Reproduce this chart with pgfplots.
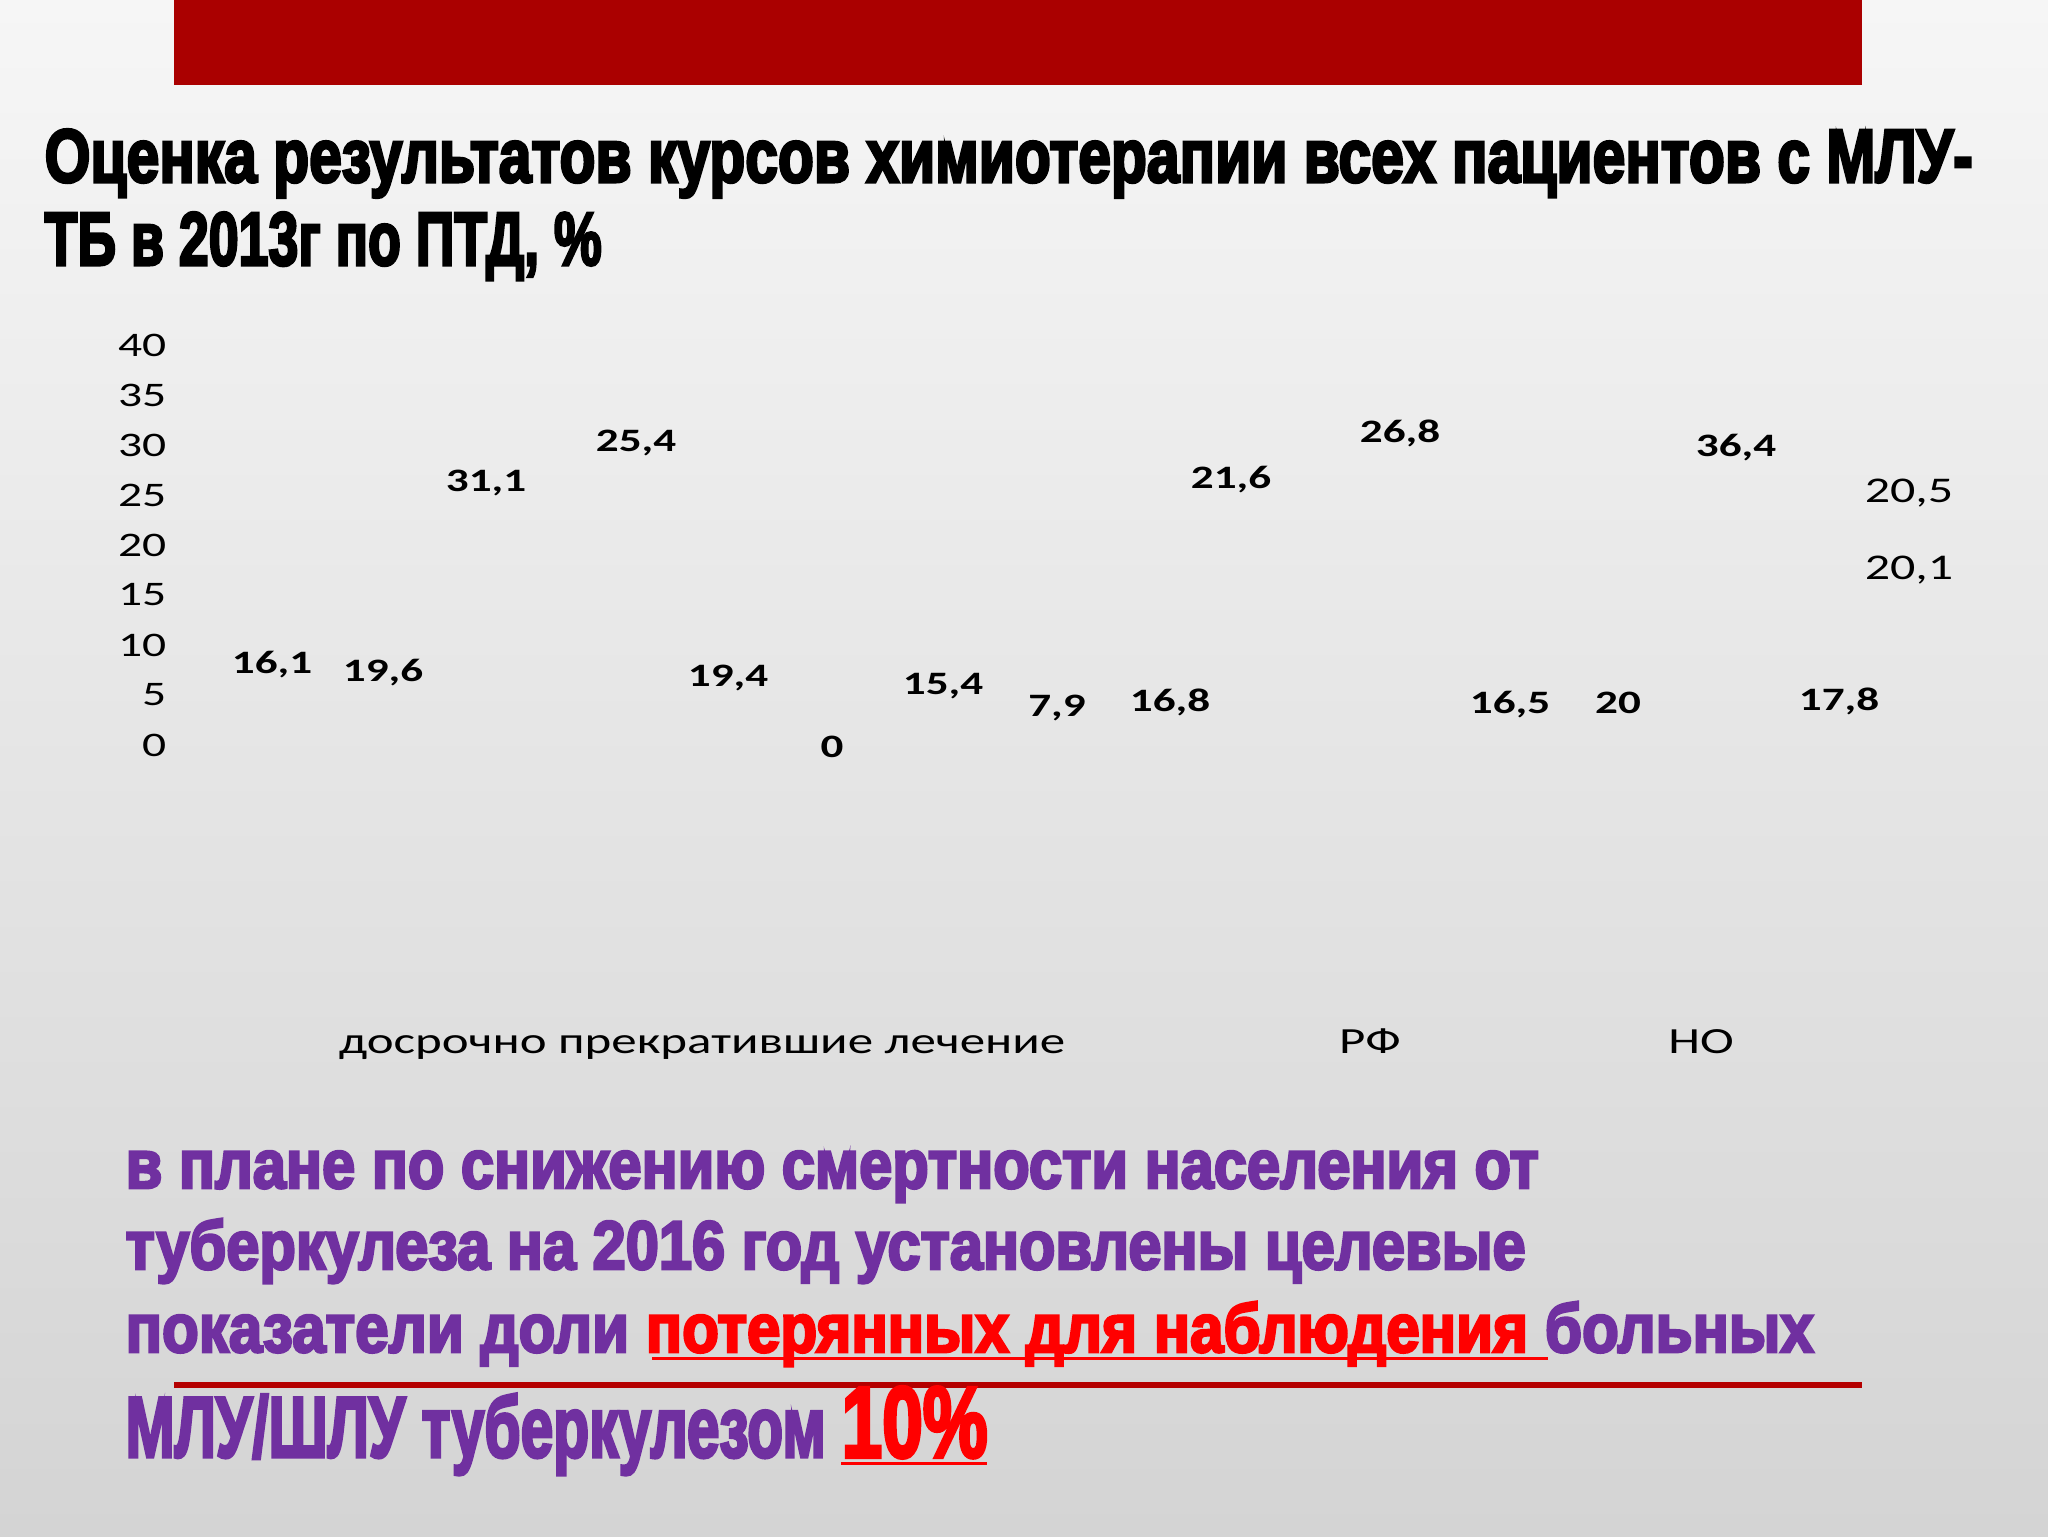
\documentclass[border=0pt]{standalone}
\usepackage{fontspec}
\usepackage{pgfplots}
\pgfplotsset{compat=1.18}
\usepackage{graphicx}
\newfontfamily\carlito[FakeStretch=1.38]{Carlito}
\newfontfamily\impact[UprightFont={* Bold},FakeBold=4]{Liberation Sans}
\definecolor{bgtop}{RGB}{246,246,246}
\definecolor{bgbot}{RGB}{212,212,212}
\definecolor{barred}{RGB}{170,0,0}
\definecolor{linered}{RGB}{180,0,0}
\definecolor{ppl}{RGB}{112,48,160}
\definecolor{txtred}{RGB}{255,0,0}

\pgfplotstableread{
x y lab
272 8.0 16,1
383 7.2 19,6
486 26.2 31,1
636 30.2 25,4
728 6.7 19,4
832 -0.2 0
943 5.9 15,4
1057 3.7 7,9
1170 4.3 16,8
1231 26.5 21,6
1400 31.2 26,8
1510 4.0 16,5
1618 4.2 20
1736 29.7 36,4
1839 4.4 17,8
}\boldlabels
\pgfplotstableread{
x y lab
1909 25.2 20,5
1909 17.5 20,1
}\reglabels

\begin{document}
\begin{tikzpicture}[x=0.1mm,y=0.1mm]
\shade[top color=bgtop,bottom color=bgbot] (0,0) rectangle (2048,1536);
\fill[barred] (174,1451) rectangle (1862,1536);
% title
\node[anchor=base west,inner sep=0pt] at (44,1354) {\resizebox{192.8mm}{1.1\height}{\fontsize{19.5pt}{20pt}\impact Оценка результатов курсов химиотерапии всех пациентов с МЛУ-}};
\node[anchor=base west,inner sep=0pt] at (44,1271) {\resizebox{55.7mm}{1.1\height}{\fontsize{19.5pt}{20pt}\impact ТБ в 2013г по ПТД, \%}};

\begin{axis}[
  at={(16.7mm,48.3mm)}, anchor=south west,
  scale only axis, width=188.1mm, height=70.8mm,
  xmin=167, xmax=2048, ymin=-30.8, ymax=40,
  clip=false,
  axis line style={draw=none}, tick style={draw=none},
  major tick length=0pt,
  ytick={0,5,...,40},
  /pgf/number format/assume math mode=true,
  yticklabel style={anchor=east, inner sep=0pt, font=\fontsize{9.8pt}{10pt}\carlito},
  xtick={702,1370,1701},
  xticklabels={досрочно прекратившие лечение, РФ, НО},
  xticklabel style={anchor=base, inner sep=0pt, font=\fontsize{10.5pt}{11pt}\carlito},
]
\addplot[draw=none, mark=none, nodes near coords, point meta=explicit symbolic,
  every node near coord/.append style={anchor=center, inner sep=0pt, font=\fontsize{9.3pt}{10pt}\carlito\bfseries}]
  table[x=x, y=y, meta=lab] {\boldlabels};
\addplot[draw=none, mark=none, nodes near coords, point meta=explicit symbolic,
  every node near coord/.append style={anchor=center, inner sep=0pt, font=\fontsize{10.3pt}{11pt}\carlito}]
  table[x=x, y=y, meta=lab] {\reglabels};
\end{axis}

% bottom text
\node[anchor=base west,inner sep=0pt] at (125,348) {\resizebox{141.3mm}{\height}{\fontsize{19.5pt}{20pt}\impact\color{ppl}в плане по снижению смертности населения от}};
\node[anchor=base west,inner sep=0pt] at (125,267) {\resizebox{140.0mm}{\height}{\fontsize{19.5pt}{20pt}\impact\color{ppl}туберкулеза на 2016 год установлены целевые}};
\node[anchor=base west,inner sep=0pt] at (125,184) {\resizebox{168.8mm}{\height}{\fontsize{19.5pt}{20pt}\impact\color{ppl}показатели доли \textcolor{txtred}{потерянных для наблюдения} больных}};
\fill[txtred] (652,176.5) rectangle (1548,179.5);
\fill[linered] (174,148) rectangle (1862,154);
\node[anchor=base west,inner sep=0pt] at (125,79) {\resizebox{70.0mm}{\height}{\fontsize{24.5pt}{25pt}\impact\color{ppl}МЛУ/ШЛУ туберкулезом}};
\node[anchor=base west,inner sep=0pt] at (841,79) {\resizebox{14.6mm}{\height}{\fontsize{28.6pt}{29pt}\impact\color{txtred}10\%}};
\fill[txtred] (841,71.5) rectangle (987,74.5);

\pgfresetboundingbox
\path (0,0) rectangle (2048,1536);
\end{tikzpicture}
\end{document}
